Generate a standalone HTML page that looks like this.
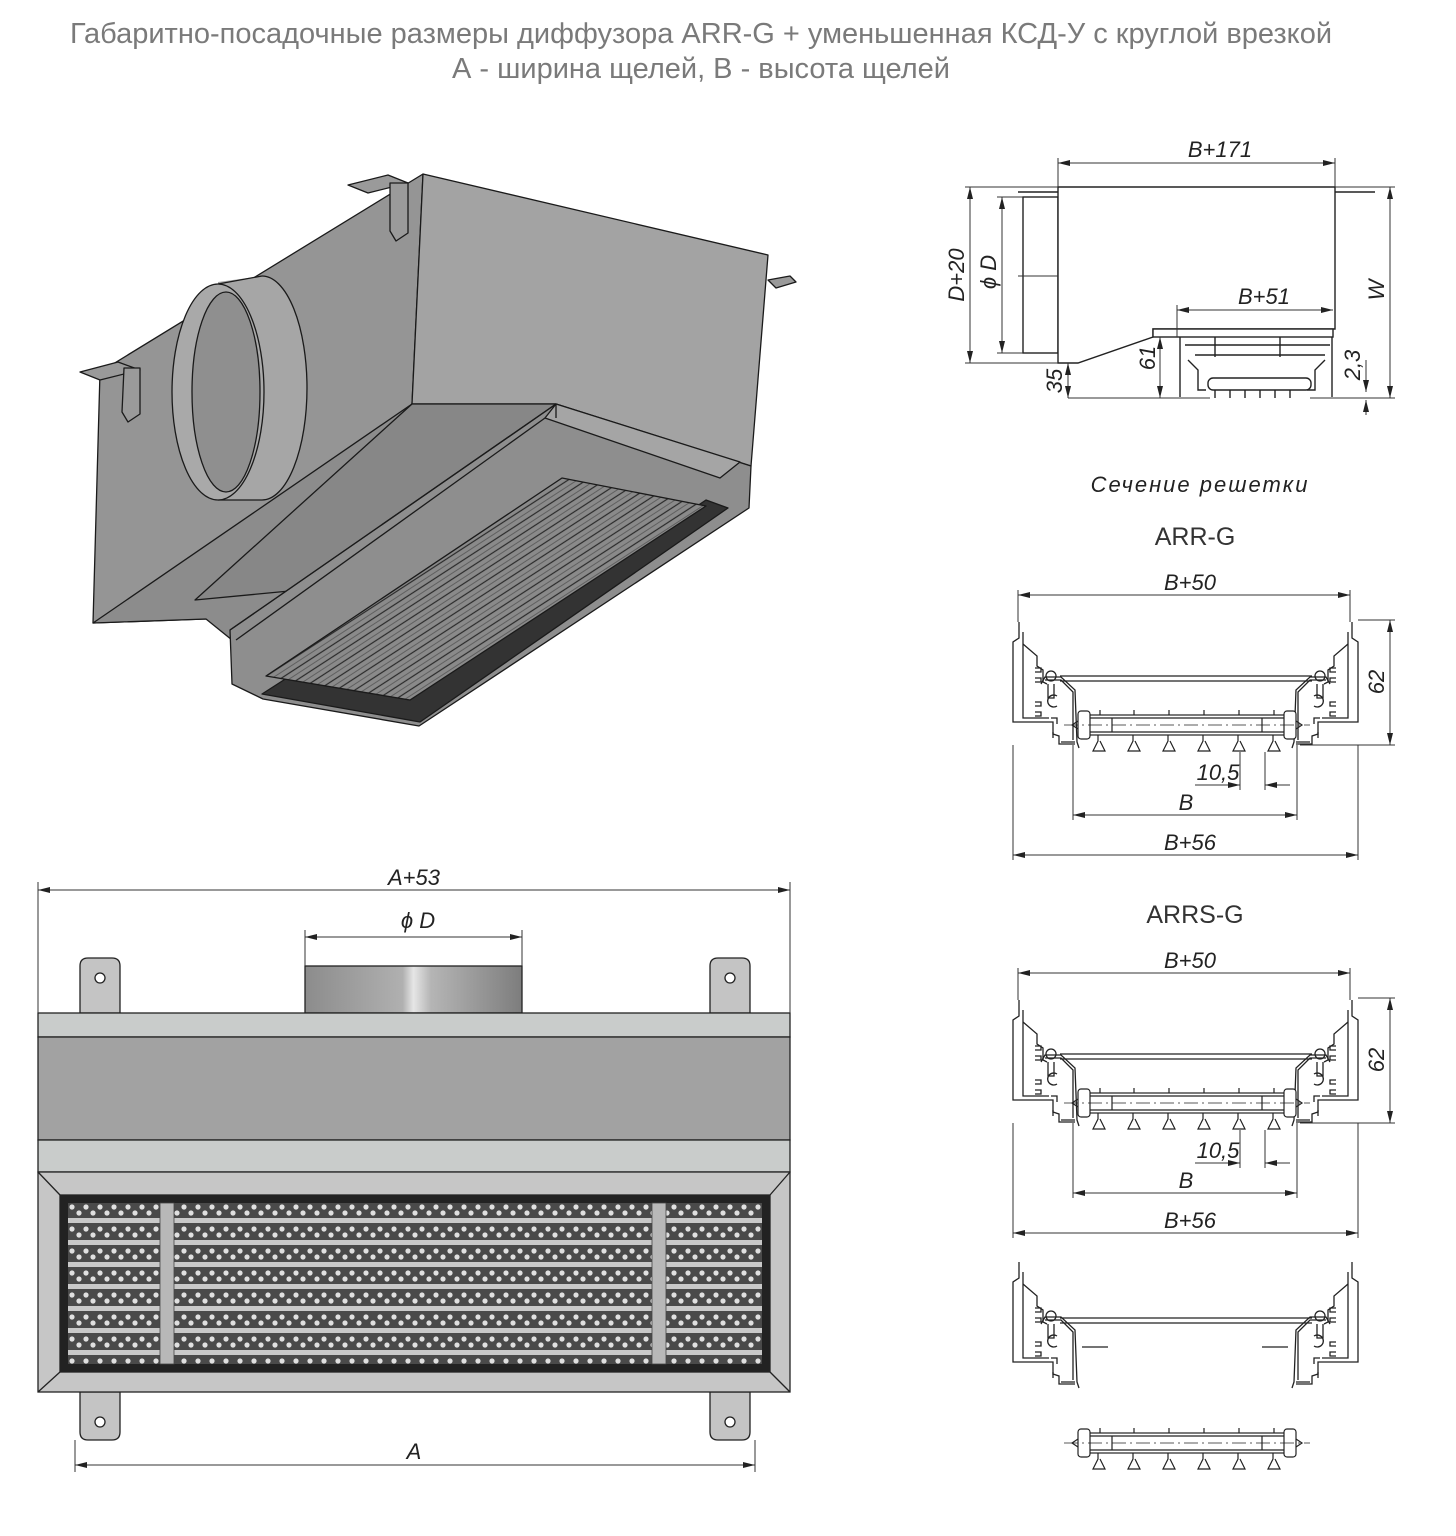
<!DOCTYPE html>
<html><head><meta charset="utf-8">
<style>
html,body{margin:0;padding:0;background:#fff;}
svg{display:block;}
.t{font-family:"Liberation Sans",sans-serif;}
.d{font-family:"Liberation Sans",sans-serif;font-style:italic;font-size:22px;fill:#222;}
</style></head><body>
<svg width="1456" height="1536" viewBox="0 0 1456 1536" xmlns="http://www.w3.org/2000/svg">
<defs>
<marker id="a" viewBox="0 0 12 6" refX="12" refY="3" markerWidth="12" markerHeight="6" orient="auto-start-reverse" markerUnits="userSpaceOnUse"><path d="M0,0 L12,3 L0,6z" fill="#222"/></marker>
<pattern id="dots" x="68" y="1203" width="14" height="22" patternUnits="userSpaceOnUse">
<rect width="14" height="22" fill="#4a4a4a"/>
<circle cx="4" cy="4" r="2.6" fill="#e0e0e0"/><circle cx="11" cy="10" r="2.6" fill="#e0e0e0"/>
<rect y="15" width="14" height="5" fill="#c9c9c9"/>
</pattern>
<pattern id="str" width="10" height="10" patternUnits="userSpaceOnUse" patternTransform="rotate(-33)">
<rect width="10" height="10" fill="#8a8a8a"/><line x1="0" y1="2" x2="10" y2="2" stroke="#2a2a2a" stroke-width="1.2"/><line x1="0" y1="7" x2="10" y2="7" stroke="#555" stroke-width="0.8"/>
</pattern>
<linearGradient id="cyl" x1="0" x2="1">
<stop offset="0" stop-color="#8c8c8c"/><stop offset="0.45" stop-color="#b0b0b0"/><stop offset="0.5" stop-color="#e6e6e6"/><stop offset="0.58" stop-color="#b5b5b5"/><stop offset="1" stop-color="#7d7d7d"/>
</linearGradient>
<g id="prof" fill="none" stroke="#222" stroke-width="1.3">
<path d="M6,0 V16 L0,20 V100 H40 V112 L46,114 V122 H62"/>
<path d="M10,10 V96 H36"/>
<path d="M10,22 L24,34 V44 L30,48 V60 L34,62"/>
<path d="M22,46 h6 v4 h-6 M22,56 h6 v4 h-6 M22,80 h6 v4 h-6 M22,90 h6 v4 h-6"/>
<path d="M28,62 L32,55 H48 L62,68 L64,120 L66,126"/>
<path d="M32,58 L48,58 L60,70 L60,118"/>
<circle cx="38" cy="54" r="5"/>
<path d="M35,62 v14 h6 v-14 M38,96 h6 v6 M44,74 a6,6 0 1 0 0,10"/>
<path d="M40,110 v6 M48,120 h14"/>
</g>
<g id="rod" fill="none" stroke="#222" stroke-width="1.2">
<rect x="0" y="-10" width="210" height="20"/>
<rect x="-4" y="-14" width="12" height="28" rx="3" fill="#fff"/>
<rect x="202" y="-14" width="12" height="28" rx="3" fill="#fff"/>
<line x1="8" y1="-7" x2="202" y2="-7"/><line x1="8" y1="7" x2="202" y2="7"/>
<line x1="30" y1="-7" x2="30" y2="7"/><line x1="180" y1="-7" x2="180" y2="7"/>
<line x1="-18" y1="0" x2="228" y2="0" stroke-dasharray="14,4,2,4" stroke-width="0.7"/>
<path d="M-4,-4 L-10,0 L-4,4 M214,-4 L220,0 L214,4"/>
<path d="M18,-10 v-5 M52,-10 v-5 M87,-10 v-5 M122,-10 v-5 M157,-10 v-5 M192,-10 v-5"/>
<path d="M16,10 v6 l-5,10 h12 l-5,-10 M51,10 v6 l-5,10 h12 l-5,-10 M86,10 v6 l-5,10 h12 l-5,-10 M121,10 v6 l-5,10 h12 l-5,-10 M156,10 v6 l-5,10 h12 l-5,-10 M191,10 v6 l-5,10 h12 l-5,-10"/>
</g>
</defs>

<text class="t" x="701" y="43" font-size="29" fill="#7a7a7a" text-anchor="middle">Габаритно-посадочные размеры диффузора ARR-G + уменьшенная КСД-У с круглой врезкой</text>
<text class="t" x="701" y="78" font-size="29" fill="#7a7a7a" text-anchor="middle">А - ширина щелей, В - высота щелей</text>

<!-- 3D view -->
<g stroke="#1a1a1a" stroke-width="1.3" stroke-linejoin="round">
<polygon points="100,372 423,174 412,404 206,619 93,623" fill="#959595"/>
<polygon points="423,174 768,255 751,466 556,404 412,404" fill="#a3a3a3"/>
<polygon points="412,404 556,404 232,640 206,619 93,623 112,610" fill="#8c8c8c"/>
<polygon points="412,404 556,404 300,590 195,600" fill="#878787"/>
<polygon points="556,404 751,466 749,508 419,726 263,699 232,684 230,630" fill="#8e8e8e"/>
<polygon points="556,404 740,462 720,478 545,418" fill="#a5a5a5"/>
<polygon points="706,500 728,508 420,722 262,694 290,676 410,700" fill="#333"/>
<polygon points="562,478 706,506 410,700 266,676" fill="url(#str)"/>
<line x1="556" y1="404" x2="230" y2="630" />
<line x1="545" y1="418" x2="236" y2="640" />
<line x1="556" y1="404" x2="556" y2="418"/>
<path d="M218,282 L262,276 A45,112 0 0 1 262,500 L218,500 Z" fill="#a6a6a6" stroke="none"/>
<path d="M218,284 L262,276 M218,500 L262,500" fill="none"/>
<path d="M262,276 A45,112 0 0 1 262,500" fill="none"/>
<ellipse cx="218" cy="392" rx="46" ry="108" fill="#a9a9a9"/>
<ellipse cx="226" cy="392" rx="34" ry="100" fill="#8f8f8f"/>
<path d="M348,185 l40,-10 l20,8 l-40,10z" fill="#9a9a9a"/>
<path d="M390,183 l18,0 l0,50 l-12,8 l-6,-10z" fill="#9a9a9a"/>
<path d="M80,372 l38,-10 l22,8 l-40,10z" fill="#9a9a9a"/>
<path d="M124,368 l16,0 l0,46 l-12,8 l-6,-10z" fill="#9a9a9a"/>
<path d="M768,280 l22,-4 l6,6 l-20,6z" fill="#9a9a9a"/>
</g>

<!-- Front view -->
<g stroke="#222" stroke-width="1.3">
<rect x="305" y="966" width="217" height="47" fill="url(#cyl)"/>
<path d="M80,1013 V966 q0,-8 8,-8 h24 q8,0 8,8 V1013z" fill="#c4c4c4"/>
<path d="M710,1013 V966 q0,-8 8,-8 h24 q8,0 8,8 V1013z" fill="#c4c4c4"/>
<circle cx="100" cy="978" r="5" fill="#fff"/><circle cx="730" cy="978" r="5" fill="#fff"/>
<path d="M80,1392 V1432 q0,8 8,8 h24 q8,0 8,-8 V1392z" fill="#c4c4c4"/>
<path d="M710,1392 V1432 q0,8 8,8 h24 q8,0 8,-8 V1392z" fill="#c4c4c4"/>
<circle cx="100" cy="1422" r="5" fill="#fff"/><circle cx="730" cy="1422" r="5" fill="#fff"/>
<rect x="38" y="1013" width="752" height="24" fill="#c9cccb"/>
<rect x="38" y="1037" width="752" height="103" fill="#a2a2a2"/>
<rect x="38" y="1140" width="752" height="32" fill="#c9cccb"/>
<rect x="38" y="1172" width="752" height="220" fill="#c6c6c6"/>
<line x1="38" y1="1172" x2="60" y2="1195"/><line x1="790" y1="1172" x2="770" y2="1195"/>
<line x1="38" y1="1392" x2="60" y2="1372"/><line x1="790" y1="1392" x2="770" y2="1372"/>
<rect x="60" y="1195" width="710" height="177" fill="#222"/>
<rect x="68" y="1203" width="694" height="161" fill="url(#dots)" stroke="none"/>
<rect x="160" y="1203" width="14" height="161" fill="#b8b8b8" stroke="#444" stroke-width="0.8"/>
<rect x="652" y="1203" width="14" height="161" fill="#b8b8b8" stroke="#444" stroke-width="0.8"/>
</g>

<!-- Front dims -->
<g stroke="#333" stroke-width="1" fill="none">
<line x1="38" y1="882" x2="38" y2="1013"/><line x1="790" y1="882" x2="790" y2="1013"/>
<line x1="38" y1="890" x2="790" y2="890" marker-start="url(#a)" marker-end="url(#a)"/>
<line x1="305" y1="930" x2="305" y2="966"/><line x1="522" y1="930" x2="522" y2="966"/>
<line x1="305" y1="937" x2="522" y2="937" marker-start="url(#a)" marker-end="url(#a)"/>
<line x1="75" y1="1440" x2="75" y2="1472"/><line x1="755" y1="1440" x2="755" y2="1472"/>
<line x1="75" y1="1465" x2="755" y2="1465" marker-start="url(#a)" marker-end="url(#a)"/>
</g>
<text class="d" x="414" y="885" text-anchor="middle">A+53</text>
<text class="d" x="418" y="928" text-anchor="middle">ϕ D</text>
<text class="d" x="414" y="1459" text-anchor="middle">A</text>

<!-- Side view top right -->
<g stroke="#222" stroke-width="1.4" fill="#fff">
<line x1="1018" y1="192" x2="1058" y2="192"/><line x1="1335" y1="192" x2="1375" y2="192"/>
<rect x="1023" y="197" width="35" height="156"/>
<path d="M1058,187 H1335 V329 H1153 V337 L1078,363 H1058Z"/>
<rect x="1153" y="329" width="180" height="8"/>
<path d="M1180,337 v60 M1332,337 v60 M1185,345 h145 M1195,355 h130" fill="none"/>
<path d="M1215,337 v20 M1280,337 v20" fill="none"/>
<rect x="1208" y="378" width="103" height="12" rx="5"/>
<path d="M1215,390 v8 M1230,390 v8 M1245,390 v8 M1260,390 v8 M1275,390 v8 M1290,390 v8" fill="none"/>
<path d="M1188,360 l10,10 v20 h8 M1325,360 l-10,10 v20 h-8" fill="none"/>
</g>
<g stroke="#333" stroke-width="1" fill="none">
<line x1="1058" y1="158" x2="1058" y2="187"/><line x1="1335" y1="158" x2="1335" y2="187"/>
<line x1="1058" y1="163" x2="1335" y2="163" marker-start="url(#a)" marker-end="url(#a)"/>
<line x1="965" y1="187" x2="1058" y2="187"/><line x1="965" y1="363" x2="1058" y2="363"/>
<line x1="970" y1="187" x2="970" y2="363" marker-start="url(#a)" marker-end="url(#a)"/>
<line x1="997" y1="197" x2="1023" y2="197"/><line x1="997" y1="353" x2="1023" y2="353"/>
<line x1="1002" y1="197" x2="1002" y2="353" marker-start="url(#a)" marker-end="url(#a)"/>
<line x1="1018" y1="276" x2="1058" y2="276"/>
<line x1="1177" y1="305" x2="1177" y2="337"/>
<line x1="1177" y1="310" x2="1333" y2="310" marker-start="url(#a)" marker-end="url(#a)"/>
<line x1="1335" y1="187" x2="1395" y2="187"/><line x1="1310" y1="398" x2="1395" y2="398"/>
<line x1="1390" y1="187" x2="1390" y2="398" marker-start="url(#a)" marker-end="url(#a)"/>
<line x1="1068" y1="363" x2="1068" y2="398" marker-start="url(#a)" marker-end="url(#a)"/>
<line x1="1068" y1="398" x2="1210" y2="398"/>
<line x1="1160" y1="337" x2="1160" y2="398" marker-start="url(#a)" marker-end="url(#a)"/>
<line x1="1366" y1="360" x2="1366" y2="392" marker-end="url(#a)"/>
<line x1="1366" y1="415" x2="1366" y2="400" marker-end="url(#a)"/>
</g>
<text class="d" x="1220" y="157" text-anchor="middle">B+171</text>
<text class="d" x="1264" y="304" text-anchor="middle">B+51</text>
<text class="d" transform="translate(964,275) rotate(-90)" text-anchor="middle">D+20</text>
<text class="d" transform="translate(996,272) rotate(-90)" text-anchor="middle">ϕ D</text>
<text class="d" transform="translate(1384,290) rotate(-90)" text-anchor="middle">W</text>
<text class="d" transform="translate(1062,381) rotate(-90)" text-anchor="middle">35</text>
<text class="d" transform="translate(1155,358) rotate(-90)" text-anchor="middle">61</text>
<text class="d" transform="translate(1360,365) rotate(-90)" text-anchor="middle">2,3</text>

<text class="d" x="1200" y="492" text-anchor="middle" font-size="20" letter-spacing="2">Сечение решетки</text>

<!-- ARR-G section -->
<text class="t" x="1195" y="545" font-size="25" fill="#333" text-anchor="middle">ARR-G</text>
<g>
<use href="#prof" transform="translate(1013,622)"/>
<use href="#prof" transform="translate(1358,622) scale(-1,1)"/>
<path d="M1060,676 H1312 M1060,681 H1312" stroke="#222" stroke-width="1.2"/>
<use href="#rod" transform="translate(1082,725)"/>
</g>
<g stroke="#333" stroke-width="1" fill="none">
<line x1="1018" y1="590" x2="1018" y2="622"/><line x1="1350" y1="590" x2="1350" y2="622"/>
<line x1="1018" y1="595" x2="1350" y2="595" marker-start="url(#a)" marker-end="url(#a)"/>
<line x1="1358" y1="620" x2="1395" y2="620"/><line x1="1300" y1="745" x2="1395" y2="745"/>
<line x1="1390" y1="620" x2="1390" y2="745" marker-start="url(#a)" marker-end="url(#a)"/>
<line x1="1240" y1="752" x2="1240" y2="790"/><line x1="1265" y1="752" x2="1265" y2="790"/>
<line x1="1195" y1="785" x2="1240" y2="785" marker-end="url(#a)"/><line x1="1290" y1="785" x2="1265" y2="785" marker-end="url(#a)"/>
<line x1="1073" y1="745" x2="1073" y2="820"/><line x1="1297" y1="745" x2="1297" y2="820"/>
<line x1="1073" y1="815" x2="1297" y2="815" marker-start="url(#a)" marker-end="url(#a)"/>
<line x1="1013" y1="745" x2="1013" y2="860"/><line x1="1358" y1="745" x2="1358" y2="860"/>
<line x1="1013" y1="855" x2="1358" y2="855" marker-start="url(#a)" marker-end="url(#a)"/>
</g>
<text class="d" x="1190" y="590" text-anchor="middle">B+50</text>
<text class="d" transform="translate(1384,682) rotate(-90)" text-anchor="middle">62</text>
<text class="d" x="1218" y="780" text-anchor="middle">10,5</text>
<text class="d" x="1186" y="810" text-anchor="middle">B</text>
<text class="d" x="1190" y="850" text-anchor="middle">B+56</text>

<!-- ARRS-G section -->
<text class="t" x="1195" y="923" font-size="25" fill="#333" text-anchor="middle">ARRS-G</text>
<g>
<use href="#prof" transform="translate(1013,1000)"/>
<use href="#prof" transform="translate(1358,1000) scale(-1,1)"/>
<path d="M1060,1054 H1312 M1060,1059 H1312" stroke="#222" stroke-width="1.2"/>
<use href="#rod" transform="translate(1082,1103)"/>
</g>
<g stroke="#333" stroke-width="1" fill="none">
<line x1="1018" y1="968" x2="1018" y2="1000"/><line x1="1350" y1="968" x2="1350" y2="1000"/>
<line x1="1018" y1="973" x2="1350" y2="973" marker-start="url(#a)" marker-end="url(#a)"/>
<line x1="1358" y1="998" x2="1395" y2="998"/><line x1="1300" y1="1123" x2="1395" y2="1123"/>
<line x1="1390" y1="998" x2="1390" y2="1123" marker-start="url(#a)" marker-end="url(#a)"/>
<line x1="1240" y1="1130" x2="1240" y2="1168"/><line x1="1265" y1="1130" x2="1265" y2="1168"/>
<line x1="1195" y1="1163" x2="1240" y2="1163" marker-end="url(#a)"/><line x1="1290" y1="1163" x2="1265" y2="1163" marker-end="url(#a)"/>
<line x1="1073" y1="1123" x2="1073" y2="1198"/><line x1="1297" y1="1123" x2="1297" y2="1198"/>
<line x1="1073" y1="1193" x2="1297" y2="1193" marker-start="url(#a)" marker-end="url(#a)"/>
<line x1="1013" y1="1123" x2="1013" y2="1238"/><line x1="1358" y1="1123" x2="1358" y2="1238"/>
<line x1="1013" y1="1233" x2="1358" y2="1233" marker-start="url(#a)" marker-end="url(#a)"/>
</g>
<text class="d" x="1190" y="968" text-anchor="middle">B+50</text>
<text class="d" transform="translate(1384,1060) rotate(-90)" text-anchor="middle">62</text>
<text class="d" x="1218" y="1158" text-anchor="middle">10,5</text>
<text class="d" x="1186" y="1188" text-anchor="middle">B</text>
<text class="d" x="1190" y="1228" text-anchor="middle">B+56</text>

<!-- Bottom exploded -->
<use href="#prof" transform="translate(1013,1262)"/>
<use href="#prof" transform="translate(1358,1262) scale(-1,1)"/>
<path d="M1060,1318 H1312 M1060,1323 H1312" stroke="#222" stroke-width="1.2"/>
<path d="M1082,1347 H1108 M1288,1347 H1262" stroke="#222" stroke-width="1.2"/>
<use href="#rod" transform="translate(1082,1443)"/>
</svg>
</body></html>
